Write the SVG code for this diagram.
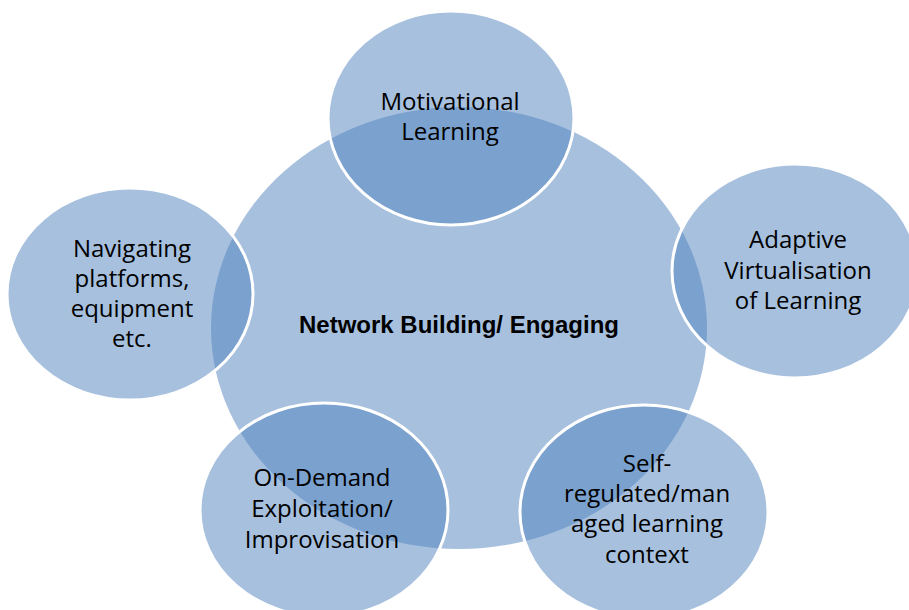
<svg xmlns="http://www.w3.org/2000/svg" width="909" height="610" viewBox="0 0 909 610">
<style>
.hub{fill:#4f81bd;fill-opacity:0.5;stroke:none}
.sat{fill:#4f81bd;fill-opacity:0.5;stroke:#ffffff;stroke-width:3}
.t{font-family:"Open Sans","Liberation Sans",sans-serif;font-size:24px;fill:#000;text-anchor:middle}
.tb{font-family:"Liberation Sans",Arial,sans-serif;font-size:24px;font-weight:bold;fill:#000;text-anchor:middle}
</style>
<rect width="909" height="610" fill="#ffffff"/>
<g id="hub">
<ellipse class="hub" cx="459" cy="328" rx="248" ry="221"/>
<text class="tb" x="459" y="333">Network Building/ Engaging</text>
</g>
<g id="connectors"></g>
<g id="motivational">
<ellipse class="sat" cx="451" cy="118" rx="123" ry="107"/>
<text class="t" x="450" y="110">Motivational</text>
<text class="t" x="450" y="140">Learning</text>
</g>
<g id="adaptive">
<ellipse class="sat" cx="795" cy="271" rx="123" ry="107"/>
<text class="t" x="798" y="248">Adaptive</text>
<text class="t" x="798" y="279">Virtualisation</text>
<text class="t" x="798" y="309">of Learning</text>
</g>
<g id="self-regulated">
<ellipse class="sat" cx="644" cy="512" rx="124" ry="107"/>
<text class="t" x="647" y="472">Self-</text>
<text class="t" x="647" y="502">regulated/man</text>
<text class="t" x="647" y="532">aged learning</text>
<text class="t" x="647" y="563">context</text>
</g>
<g id="on-demand">
<ellipse class="sat" cx="324" cy="510" rx="124" ry="107"/>
<text class="t" x="322" y="486">On-Demand</text>
<text class="t" x="322" y="517">Exploitation/</text>
<text class="t" x="322" y="548">Improvisation</text>
</g>
<g id="navigating">
<ellipse class="sat" cx="130" cy="294" rx="123" ry="106"/>
<text class="t" x="132" y="257">Navigating</text>
<text class="t" x="132" y="287">platforms,</text>
<text class="t" x="132" y="317">equipment</text>
<text class="t" x="132" y="347">etc.</text>
</g>
</svg>
